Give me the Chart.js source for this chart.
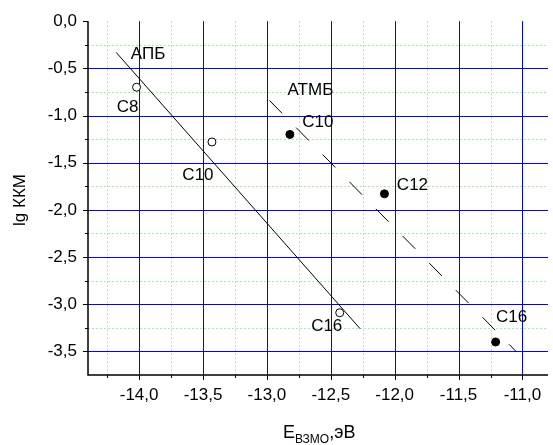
<!DOCTYPE html>
<html>
<head>
<meta charset="utf-8">
<script src="https://cdn.jsdelivr.net/npm/chart.js@4.4.1/dist/chart.umd.min.js"></script>
<style>
  body { margin: 0; background: #fff; }
  canvas { display: block; }
</style>
</head>
<body>
<canvas id="chart" width="553" height="445"></canvas>
<script>
// points
const apbX = [-14.02, -13.43, -12.43];
const apbY = [-0.70, -1.28, -3.09];
const atmbX = [-12.82, -12.08, -11.21];
const atmbY = [-1.20, -1.83, -3.40];
const apbNames = ["С8", "С10", "С16"];
const atmbNames = ["С10", "С12", "С16"];

// fitted lines (end points)
const apbFitX = [-14.18, -12.27];
const apbFitY = [-0.33, -3.26];
const atmbFitX = [-12.98, -11.05];
const atmbFitY = [-0.84, -3.50];

// ticks
const xMajor = [-14.0, -13.5, -13.0, -12.5, -12.0, -11.5, -11.0];
const xMinor = [-14.25, -13.75, -13.25, -12.75, -12.25, -11.75, -11.25];
const yMajor = [0.0, -0.5, -1.0, -1.5, -2.0, -2.5, -3.0, -3.5];
const yMinor = [-0.25, -0.75, -1.25, -1.75, -2.25, -2.75, -3.25];

const FONT = '"Liberation Sans", Arial, sans-serif';
const pts = (xs, ys) => xs.map((x, i) => ({x: x, y: ys[i]}));
const fmt = v => v.toFixed(1).replace(".", ",");
const isMajor = v => Math.abs(v * 2 - Math.round(v * 2)) < 1e-6;

// offsets of the text labels from their points (px)
const apbOffsets = [[-9, 20], [-14, 33], [-13, 14]];
const atmbOffsets = [[28, -12], [28, -9], [16, -25]];

const gridPlugin = {
  id: "grid",
  beforeDatasetsDraw(chart) {
    const {ctx, chartArea: a, scales: {x, y}} = chart;
    ctx.save();
    ctx.lineWidth = 1;
    // minor dotted green
    ctx.strokeStyle = "rgb(170,235,170)";
    ctx.setLineDash([2, 2]);
    xMinor.forEach(v => {
      const px = Math.round(x.getPixelForValue(v)) + 0.5;
      ctx.beginPath(); ctx.moveTo(px, a.top); ctx.lineTo(px, a.bottom); ctx.stroke();
    });
    yMinor.forEach(v => {
      const py = Math.round(y.getPixelForValue(v)) + 0.5;
      ctx.beginPath(); ctx.moveTo(a.left, py); ctx.lineTo(a.right, py); ctx.stroke();
    });
    // major solid blue
    ctx.setLineDash([]);
    ctx.strokeStyle = "#0000ff";
    xMajor.forEach(v => {
      const px = Math.round(x.getPixelForValue(v)) + 0.5;
      ctx.beginPath(); ctx.moveTo(px, a.top); ctx.lineTo(px, a.bottom); ctx.stroke();
    });
    yMajor.filter(v => v !== 0).forEach(v => {
      const py = Math.round(y.getPixelForValue(v)) + 0.5;
      ctx.beginPath(); ctx.moveTo(a.left, py); ctx.lineTo(a.right, py); ctx.stroke();
    });
    // axes + tick marks
    ctx.strokeStyle = "#000";
    ctx.lineWidth = 1.5;
    ctx.beginPath();
    ctx.moveTo(a.left, a.top); ctx.lineTo(a.left, a.bottom); ctx.lineTo(a.right, a.bottom);
    ctx.stroke();
    ctx.lineWidth = 1;
    xMajor.concat(xMinor).forEach(v => {
      const px = Math.round(x.getPixelForValue(v)) + 0.5;
      const len = isMajor(v) ? 5 : 3;
      ctx.beginPath(); ctx.moveTo(px, a.bottom); ctx.lineTo(px, a.bottom + len); ctx.stroke();
    });
    yMajor.concat(yMinor).forEach(v => {
      const py = Math.round(y.getPixelForValue(v)) + 0.5;
      const len = isMajor(v) ? 5 : 3;
      ctx.beginPath(); ctx.moveTo(a.left, py); ctx.lineTo(a.left - len, py); ctx.stroke();
    });
    ctx.restore();
  },
  afterDatasetsDraw(chart) {
    const {ctx, scales: {x, y}} = chart;
    ctx.save();
    ctx.fillStyle = "#000";
    ctx.textAlign = "center";
    ctx.textBaseline = "middle";
    ctx.font = "17px " + FONT;
    apbNames.forEach((t, i) => {
      ctx.fillText(t, x.getPixelForValue(apbX[i]) + apbOffsets[i][0], y.getPixelForValue(apbY[i]) + apbOffsets[i][1]);
    });
    atmbNames.forEach((t, i) => {
      ctx.fillText(t, x.getPixelForValue(atmbX[i]) + atmbOffsets[i][0], y.getPixelForValue(atmbY[i]) + atmbOffsets[i][1]);
    });
    ctx.fillText("АПБ", x.getPixelForValue(apbFitX[0]) + 32, y.getPixelForValue(apbFitY[0]) + 2);
    ctx.fillText("АТМБ", x.getPixelForValue(atmbFitX[0]) + 41, y.getPixelForValue(atmbFitY[0]) - 10);

    // axis titles
    ctx.save();
    ctx.translate(20, 200);
    ctx.rotate(-Math.PI / 2);
    ctx.font = "17px " + FONT;
    ctx.fillText("lg ККМ", 0, 0);
    ctx.restore();

    ctx.textAlign = "left";
    ctx.textBaseline = "alphabetic";
    let cx = 283;
    ctx.font = "18px " + FONT;
    ctx.fillText("E", cx, 438);
    cx += ctx.measureText("E").width;
    ctx.font = "12px " + FONT;
    ctx.fillText("ВЗМО", cx, 443);
    cx += ctx.measureText("ВЗМО").width;
    ctx.font = "18px " + FONT;
    ctx.fillText(",эВ", cx, 438);
    ctx.restore();
  }
};

new Chart(document.getElementById("chart"), {
  type: "scatter",
  data: {
    datasets: [
      {label: "АПБ", data: pts(apbX, apbY), pointRadius: 4, pointBackgroundColor: "#fff",
       pointBorderColor: "#000", pointBorderWidth: 1, showLine: false},
      {label: "АТМБ", data: pts(atmbX, atmbY), pointRadius: 4, pointBackgroundColor: "#000",
       pointBorderColor: "#000", pointBorderWidth: 1, showLine: false},
      {label: "fit1", data: pts(apbFitX, apbFitY), showLine: true, pointRadius: 0,
       borderColor: "#000", borderWidth: 1},
      {label: "fit2", data: pts(atmbFitX, atmbFitY), showLine: true, pointRadius: 0,
       borderColor: "#000", borderWidth: 1, borderDash: [18, 20]}
    ]
  },
  options: {
    responsive: false,
    animation: false,
    devicePixelRatio: 1,
    layout: {padding: {top: 20, right: 0, left: 0, bottom: 0}},
    plugins: {legend: {display: false}, tooltip: {enabled: false}},
    scales: {
      x: {
        type: "linear", min: -14.4, max: -10.8,
        grid: {display: false, drawTicks: false},
        border: {display: false},
        afterBuildTicks: s => { s.ticks = xMinor.concat(xMajor).sort((a, b) => a - b).map(v => ({value: v})); },
        afterFit: s => { s.height = 70; },
        ticks: {
          autoSkip: false, maxRotation: 0, padding: 10, color: "#000",
          font: {family: FONT, size: 17},
          callback: v => isMajor(v) ? fmt(v) : ""
        }
      },
      y: {
        type: "linear", min: -3.75, max: 0,
        grid: {display: false, drawTicks: false},
        border: {display: false},
        afterBuildTicks: s => { s.ticks = yMinor.concat(yMajor).sort((a, b) => a - b).map(v => ({value: v})); },
        afterFit: s => { s.width = 88; },
        ticks: {
          autoSkip: false, padding: 11, color: "#000",
          font: {family: FONT, size: 17},
          callback: v => isMajor(v) ? fmt(v) : ""
        }
      }
    }
  },
  plugins: [gridPlugin]
});
</script>
</body>
</html>
